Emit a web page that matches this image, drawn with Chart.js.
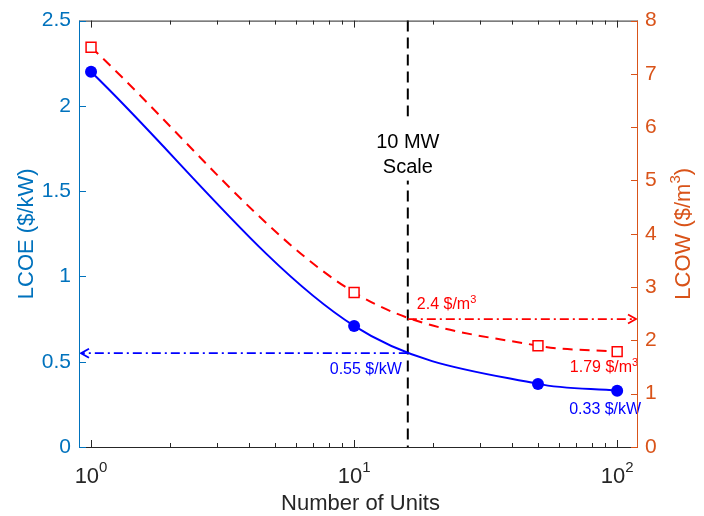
<!DOCTYPE html>
<html>
<head>
<meta charset="utf-8">
<script src="https://cdn.jsdelivr.net/npm/chart.js@4.4.1/dist/chart.umd.min.js"></script>
<style>
  html, body { margin: 0; padding: 0; background: #fff; }
  canvas { display: block; }
</style>
</head>
<body>
<canvas id="cost-chart" width="704" height="516"></canvas>
<script>
const units = [1, 10, 50, 100]
const lcoe = [2.2, 0.71, 0.37, 0.33]     // $/kW
const lcow = [7.5, 2.9, 1.9, 1.79]       // $/m3
const lcoeTicks = [0, 0.5, 1, 1.5, 2, 2.5]
const lcowTicks = [0, 1, 2, 3, 4, 5, 6, 7, 8]
const decadeTicks = [1, 10, 100]
const decadeLabels = ['0', '1', '2']     // exponents of 10

const scaleUnits = 16
const lcoeAtScale = 0.55
const lcowAtScale = 2.4

const FONT = '"Liberation Sans", Arial, Helvetica, sans-serif'
const LEFT_COLOR = '#0072BD'
const RIGHT_COLOR = '#D95319'
const AXIS_COLOR = '#262626'
const BLUE = '#0000FF'
const RED = '#FF0000'

// minor tick marks 1..9 per decade
const minorTicks = []
for (let d = 1; d < 100; d *= 10) {
  for (let k = 1; k < 10; k++) minorTicks.push(k * d)
}
minorTicks.push(100)

function font (size) { return size + 'px ' + FONT }

// draws runs of text (with raised superscripts) on one baseline
function drawRich (ctx, parts, x, y, align) {
  let total = 0
  parts.forEach(p => { ctx.font = font(p.size); p.w = ctx.measureText(p.text).width; total += p.w })
  let cx = align === 'center' ? x - total / 2 : align === 'right' ? x - total : x
  ctx.textAlign = 'left'
  ctx.textBaseline = 'alphabetic'
  parts.forEach(p => {
    ctx.font = font(p.size)
    ctx.fillText(p.text, cx, y + (p.dy || 0))
    cx += p.w
  })
}

function line (ctx, x1, y1, x2, y2) {
  ctx.beginPath()
  ctx.moveTo(x1, y1)
  ctx.lineTo(x2, y2)
  ctx.stroke()
}

const annotations = {
  id: 'annotations',
  beforeDatasetsDraw (chart) {
    const { ctx, chartArea: a, scales: { x, yL, yR } } = chart
    const px = x.getPixelForValue(scaleUnits)
    ctx.save()

    // 10 MW marker
    ctx.strokeStyle = '#000'
    ctx.lineWidth = 2
    ctx.setLineDash([11, 6])
    line(ctx, px, a.top, px, a.bottom)

    // LCOE read-off, pointing at the left axis
    const py1 = yL.getPixelForValue(lcoeAtScale)
    ctx.strokeStyle = BLUE
    ctx.lineWidth = 1.8
    ctx.setLineDash([9, 4, 2, 4])
    line(ctx, px, py1, a.left + 2, py1)
    ctx.setLineDash([])
    ctx.beginPath()
    ctx.moveTo(a.left + 10, py1 - 4.5)
    ctx.lineTo(a.left + 2, py1)
    ctx.lineTo(a.left + 10, py1 + 4.5)
    ctx.stroke()

    // LCOW read-off, pointing at the right axis
    const py2 = yR.getPixelForValue(lcowAtScale)
    ctx.strokeStyle = RED
    ctx.setLineDash([9, 4, 2, 4])
    line(ctx, px, py2, a.right - 2, py2)
    ctx.setLineDash([])
    ctx.beginPath()
    ctx.moveTo(a.right - 10, py2 - 4.5)
    ctx.lineTo(a.right - 2, py2)
    ctx.lineTo(a.right - 10, py2 + 4.5)
    ctx.stroke()

    ctx.restore()
  },
  afterDatasetsDraw (chart) {
    const { ctx, chartArea: a, scales: { x, yL, yR } } = chart
    const px = x.getPixelForValue(scaleUnits)
    ctx.save()

    // text box over the marker line
    ctx.fillStyle = '#fff'
    ctx.fillRect(px - 38, a.top + 96, 76, 64)
    ctx.fillStyle = '#000'
    drawRich(ctx, [{ text: '10 MW', size: 20 }], px, a.top + 127, 'center')
    drawRich(ctx, [{ text: 'Scale', size: 20 }], px, a.top + 152, 'center')

    ctx.fillStyle = BLUE
    const py1 = yL.getPixelForValue(lcoeAtScale)
    drawRich(ctx, [{ text: lcoeAtScale + ' $/kW', size: 16 }], px - 6, py1 + 21, 'right')

    ctx.fillStyle = RED
    const py2 = yR.getPixelForValue(lcowAtScale)
    drawRich(ctx, [{ text: lcowAtScale + ' $/m', size: 16 }, { text: '3', size: 11, dy: -6 }], px + 9, py2 - 10, 'left')

    // end-point values
    const last = units.length - 1
    const ex = x.getPixelForValue(units[last])
    ctx.fillStyle = RED
    drawRich(ctx, [{ text: lcow[last] + ' $/m', size: 16 }, { text: '3', size: 11, dy: -6 }], ex + 21, yR.getPixelForValue(lcow[last]) + 20, 'right')
    ctx.fillStyle = BLUE
    drawRich(ctx, [{ text: lcoe[last] + ' $/kW', size: 16 }], ex + 24, yL.getPixelForValue(lcoe[last]) + 23, 'right')

    ctx.restore()
  },
  afterDraw (chart) {
    const { ctx, chartArea: a, scales: { x, yL, yR } } = chart
    ctx.save()
    ctx.lineWidth = 1

    // box
    ctx.strokeStyle = AXIS_COLOR
    line(ctx, a.left, a.bottom + 0.5, a.right, a.bottom + 0.5)
    line(ctx, a.left, a.top + 0.5, a.right, a.top + 0.5)
    ctx.strokeStyle = LEFT_COLOR
    line(ctx, a.left + 0.5, a.top, a.left + 0.5, a.bottom + 1)
    ctx.strokeStyle = RIGHT_COLOR
    line(ctx, a.right - 0.5, a.top, a.right - 0.5, a.bottom + 1)

    // inward ticks
    ctx.strokeStyle = AXIS_COLOR
    minorTicks.forEach(v => {
      const tx = Math.round(x.getPixelForValue(v)) + 0.5
      const len = decadeTicks.includes(v) ? 7 : 4
      line(ctx, tx, a.bottom, tx, a.bottom - len)
      line(ctx, tx, a.top, tx, a.top + len)
    })
    ctx.strokeStyle = LEFT_COLOR
    lcoeTicks.forEach(v => {
      const ty = Math.round(yL.getPixelForValue(v)) + 0.5
      line(ctx, a.left, ty, a.left + 7, ty)
    })
    ctx.strokeStyle = RIGHT_COLOR
    lcowTicks.forEach(v => {
      const ty = Math.round(yR.getPixelForValue(v)) + 0.5
      line(ctx, a.right, ty, a.right - 7, ty)
    })

    // decade labels 10^n
    ctx.fillStyle = AXIS_COLOR
    decadeTicks.forEach((v, i) => {
      drawRich(ctx, [{ text: '10', size: 22 }, { text: decadeLabels[i], size: 15, dy: -11 }],
        x.getPixelForValue(v), a.bottom + 36, 'center')
    })

    // axis titles
    drawRich(ctx, [{ text: 'Number of Units', size: 22 }], (a.left + a.right) / 2 + 2, a.bottom + 63, 'center')

    const cy = (a.top + a.bottom) / 2
    ctx.fillStyle = LEFT_COLOR
    ctx.save()
    ctx.translate(33, cy)
    ctx.rotate(-Math.PI / 2)
    drawRich(ctx, [{ text: 'LCOE ($/kW)', size: 22 }], 0, 0, 'center')
    ctx.restore()

    ctx.fillStyle = RIGHT_COLOR
    ctx.save()
    ctx.translate(690, cy)
    ctx.rotate(-Math.PI / 2)
    drawRich(ctx, [{ text: 'LCOW ($/m', size: 22 }, { text: '3', size: 15, dy: -10 }, { text: ')', size: 22 }], 0, 0, 'center')
    ctx.restore()

    ctx.restore()
  }
}

new Chart(document.getElementById('cost-chart').getContext('2d'), {
  type: 'scatter',
  data: {
    datasets: [
      {
        label: 'LCOW',
        data: units.map((u, i) => ({ x: u, y: lcow[i] })),
        yAxisID: 'yR',
        showLine: true,
        borderColor: RED,
        borderWidth: 2,
        borderDash: [10, 7],
        cubicInterpolationMode: 'monotone',
        pointStyle: 'rect',
        pointRadius: 7,
        pointBorderWidth: 1.5,
        pointBorderColor: RED,
        pointBackgroundColor: '#fff'
      },
      {
        label: 'LCOE',
        data: units.map((u, i) => ({ x: u, y: lcoe[i] })),
        yAxisID: 'yL',
        showLine: true,
        borderColor: BLUE,
        borderWidth: 2,
        cubicInterpolationMode: 'monotone',
        pointStyle: 'circle',
        pointRadius: 6,
        pointBorderWidth: 0,
        pointBackgroundColor: BLUE
      }
    ]
  },
  options: {
    responsive: false,
    animation: false,
    events: [],
    layout: { padding: { top: 16, left: 0, right: 0, bottom: 0 } },
    plugins: { legend: { display: false }, tooltip: { enabled: false } },
    scales: {
      x: {
        type: 'logarithmic',
        min: 0.9,
        max: 120,
        grid: { display: false, drawTicks: false },
        border: { display: false },
        ticks: { display: false },
        afterFit (scale) { scale.height = 69 }
      },
      yL: {
        type: 'linear',
        position: 'left',
        min: 0,
        max: 2.5,
        afterBuildTicks (scale) { scale.ticks = lcoeTicks.map(v => ({ value: v })) },
        grid: { display: false, drawTicks: false },
        border: { display: false },
        ticks: {
          color: LEFT_COLOR,
          font: { family: FONT, size: 21 },
          padding: 8,
          autoSkip: false,
          callback: v => String(v)
        },
        afterFit (scale) { scale.width = 79 }
      },
      yR: {
        type: 'linear',
        position: 'right',
        min: 0,
        max: 8,
        afterBuildTicks (scale) { scale.ticks = lcowTicks.map(v => ({ value: v })) },
        grid: { display: false, drawTicks: false },
        border: { display: false },
        ticks: {
          color: RIGHT_COLOR,
          font: { family: FONT, size: 21 },
          padding: 7,
          autoSkip: false,
          callback: v => String(v)
        },
        afterFit (scale) { scale.width = 66 }
      }
    }
  },
  plugins: [annotations]
})
</script>
</body>
</html>
